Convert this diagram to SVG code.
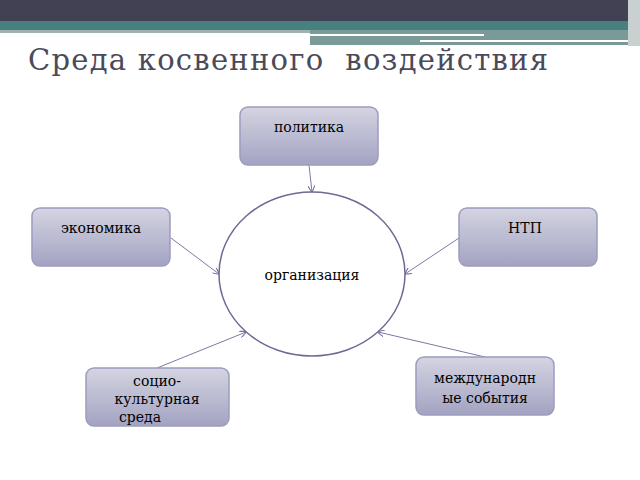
<svg xmlns="http://www.w3.org/2000/svg" width="640" height="480" viewBox="0 0 640 480">
<defs>
<linearGradient id="g" x1="0" y1="0" x2="0" y2="1"><stop offset="0" stop-color="#d4d4e2"/><stop offset="1" stop-color="#a3a3c2"/></linearGradient>
<marker id="a" viewBox="0 0 10 10" refX="9" refY="5" markerWidth="7" markerHeight="7" orient="auto"><path d="M0,0 L10,5 L0,10" fill="none" stroke="#6f6f9a" stroke-width="1.5"/></marker>
</defs>
<style>
.n{fill:url(#g);stroke:#9c9cbf;stroke-width:1.5}
.t{font-family:'DejaVu Serif',serif;font-size:14px;fill:#000;text-anchor:middle}
.c{stroke:#7a7aa3;stroke-width:1;fill:none;marker-end:url(#a)}
</style>
<rect width="640" height="480" fill="#fff"/>
<rect x="0" y="0" width="640" height="21" fill="#414153"/>
<rect x="0" y="21" width="640" height="9" fill="#46807f"/>
<rect x="0" y="30" width="310" height="3" fill="#9fb3b3"/>
<rect x="310" y="30" width="330" height="15" fill="#7a9a9a"/>
<rect x="310" y="34" width="174" height="2" fill="#fff"/>
<rect x="420" y="40" width="210" height="2" fill="#fff"/>
<rect x="628" y="0" width="12" height="46" fill="#c8d0d0"/>
<text x="28" y="70" font-family="'DejaVu Serif',serif" font-size="29" fill="#4a4a5a" textLength="520" xml:space="preserve">Среда косвенного  воздействия</text>
<g id="connectors">
<line class="c" x1="309" y1="165" x2="312" y2="192"/>
<line class="c" x1="171" y1="238" x2="219" y2="274"/>
<line class="c" x1="459" y1="238" x2="405" y2="274"/>
<line class="c" x1="485" y1="357" x2="378" y2="332"/>
<line class="c" x1="157" y1="368" x2="246" y2="332"/>
</g>
<g id="org"><ellipse cx="312" cy="274" rx="93" ry="82" fill="#fff" stroke="#6a6a95" stroke-width="1.5"/><text class="t" x="312" y="280">организация</text></g>
<g id="politika"><rect class="n" x="240" y="107" width="138" height="58" rx="8"/><text class="t" x="309" y="132">политика</text></g>
<g id="ekonomika"><rect class="n" x="32" y="208" width="138" height="58" rx="8"/><text class="t" x="101" y="233">экономика</text></g>
<g id="ntp"><rect class="n" x="459" y="208" width="138" height="58" rx="8"/><text class="t" x="525" y="233">НТП</text></g>
<g id="mezhd"><rect class="n" x="416" y="357" width="138" height="58" rx="8"/><text class="t" x="485" y="383">международн</text><text class="t" x="485" y="403">ые события</text></g>
<g id="socio"><rect class="n" x="86" y="368" width="143" height="58" rx="8"/><text class="t" x="157" y="386">социо-</text><text class="t" x="157" y="404">культурная</text><text class="t" x="140" y="422">среда</text></g>
</svg>
